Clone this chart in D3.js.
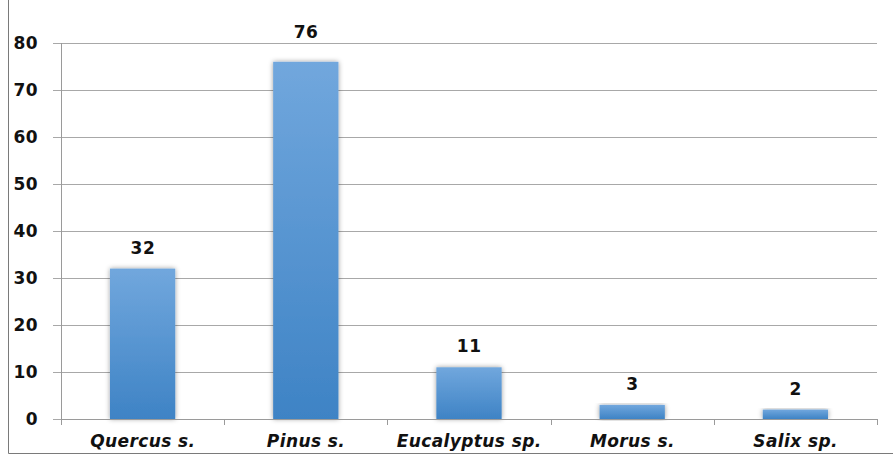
<!DOCTYPE html>
<html>
<head>
<meta charset="utf-8">
<script src="https://cdn.jsdelivr.net/npm/d3@7"></script>
<style>
  html, body { margin: 0; padding: 0; background: #fff; }
  svg { display: block; }
  text { font-family: "DejaVu Sans", Verdana, sans-serif; font-weight: bold; fill: #111; }
</style>
</head>
<body>
<div id="chart"></div>
<script>
// Tree species counts
const categories = ["Quercus s.", "Pinus s.", "Eucalyptus sp.", "Morus s.", "Salix sp."];
const counts = [32, 76, 11, 3, 2];
const yTicks = [0, 10, 20, 30, 40, 50, 60, 70, 80];

const width = 894, height = 459;
const plot = { left: 61, right: 877, top: 43, bottom: 419 };

const svg = d3.select("#chart").append("svg")
  .attr("width", width).attr("height", height);

const defs = svg.append("defs");
const grad = defs.append("linearGradient")
  .attr("id", "barFill").attr("x1", 0).attr("y1", 0).attr("x2", 0).attr("y2", 1);
grad.append("stop").attr("offset", "0%").attr("stop-color", "#71a7dd");
grad.append("stop").attr("offset", "100%").attr("stop-color", "#3e83c5");

const shadow = defs.append("filter").attr("id", "barShadow")
  .attr("x", "-30%").attr("y", "-10%").attr("width", "160%").attr("height", "120%");
shadow.append("feDropShadow")
  .attr("dx", 0).attr("dy", 0).attr("stdDeviation", 2.5)
  .attr("flood-color", "#000").attr("flood-opacity", 0.4);

const x = d3.scaleBand()
  .domain(categories)
  .range([plot.left, plot.right])
  .paddingInner(0.6)
  .paddingOuter(0.3);

const y = d3.scaleLinear()
  .domain([0, 80])
  .range([plot.bottom, plot.top]);

// Outer frame (left and bottom edges)
svg.append("path")
  .attr("d", d3.line()([[8.5, 0], [8.5, 453.5], [893, 453.5]]))
  .attr("fill", "none").attr("stroke", "#7a7a7a").attr("stroke-width", 1);

// Horizontal gridlines with left tick stubs
svg.append("g")
  .attr("transform", `translate(${plot.left},0)`)
  .call(d3.axisLeft(y).tickValues(yTicks).tickSize(-(plot.right - plot.left)).tickFormat(""))
  .call(g => g.select(".domain").remove())
  .call(g => g.selectAll(".tick line")
    .attr("x1", -8)
    .attr("stroke", "#a8a8a8"));

// Y tick labels
svg.append("g").selectAll("text")
  .data(yTicks)
  .join("text")
  .attr("x", 38)
  .attr("y", d => y(d))
  .attr("dy", "0.36em")
  .attr("text-anchor", "end")
  .attr("font-size", 17)
  .attr("letter-spacing", "0.4px")
  .text(d => d);

// Y axis line
svg.append("line")
  .attr("x1", plot.left + 0.5).attr("x2", plot.left + 0.5)
  .attr("y1", plot.top).attr("y2", plot.bottom)
  .attr("stroke", "#9a9a9a");

// Bars
svg.append("g").selectAll("rect")
  .data(counts)
  .join("rect")
  .attr("x", (d, i) => x(categories[i]))
  .attr("y", d => y(d))
  .attr("width", x.bandwidth())
  .attr("height", d => y(0) - y(d))
  .attr("fill", "url(#barFill)")
  .attr("filter", "url(#barShadow)");

// X axis line with category boundary ticks
const boundaries = d3.range(categories.length + 1)
  .map(i => plot.left + i * (plot.right - plot.left) / categories.length);
svg.append("line")
  .attr("x1", plot.left).attr("x2", plot.right)
  .attr("y1", plot.bottom + 0.5).attr("y2", plot.bottom + 0.5)
  .attr("stroke", "#9a9a9a");
svg.append("g").selectAll("line")
  .data(boundaries)
  .join("line")
  .attr("x1", d => Math.round(d) + 0.5).attr("x2", d => Math.round(d) + 0.5)
  .attr("y1", plot.bottom).attr("y2", plot.bottom + 6)
  .attr("stroke", "#9a9a9a");

// Category labels
svg.append("g").selectAll("text")
  .data(categories)
  .join("text")
  .attr("x", d => x(d) + x.bandwidth() / 2 + 0.2)
  .attr("y", 447)
  .attr("text-anchor", "middle")
  .attr("font-size", 17)
  .attr("font-style", "italic")
  .attr("letter-spacing", "0.4px")
  .text(d => d);

// Value labels above bars; a label that would hit the top gridline sits above it
function labelY(v) {
  const base = y(v) - 15;
  return base < y(80) + 10 ? y(80) - 5 : base;
}
svg.append("g").selectAll("text")
  .data(counts)
  .join("text")
  .attr("x", (d, i) => x(categories[i]) + x.bandwidth() / 2 + 0.3)
  .attr("y", d => labelY(d))
  .attr("text-anchor", "middle")
  .attr("font-size", 17)
  .attr("letter-spacing", "0.6px")
  .text(d => d);
</script>
</body>
</html>
